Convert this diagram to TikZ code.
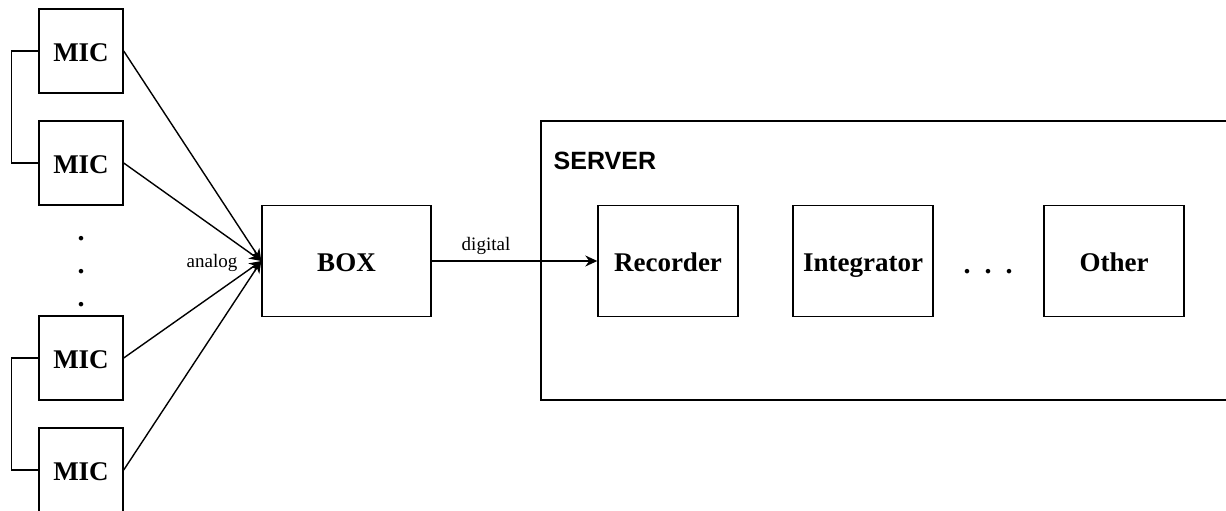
\documentclass[tikz,border=0pt]{standalone}
\usepackage{fontspec}
\setmainfont{Liberation Serif}
\newfontfamily\headsans{Liberation Sans}
\usetikzlibrary{arrows.meta}
\begin{document}
\begin{tikzpicture}[x=1pt,y=-1pt,
  line width=1.4pt,
  blk/.style={draw, rectangle, inner sep=0pt, text height=21pt, text depth=0pt,
    font=\fontsize{27}{30}\selectfont\bfseries},
  mic/.style={blk, minimum width=84pt, minimum height=84pt},
  unit/.style={blk, minimum width=140pt, minimum height=111pt},
  lbl/.style={inner sep=0pt, font=\fontsize{19}{22}\selectfont},
  dotc/.style={inner sep=0pt, anchor=base, font=\fontsize{28}{30}\selectfont\bfseries},
  sig/.style={-{Stealth[length=12pt,width=11pt]}}
]
\useasboundingbox (0,0) rectangle (1226,511);

% microphones
\node[mic] (m1) at (81,51) {MIC};
\node[mic] (m2) at (81,163) {MIC};
\node[mic] (m3) at (81,358) {MIC};
\node[mic] (m4) at (81,470) {MIC};

% vertical ellipsis between microphone groups
\node[dotc] (v1) at (81,240) {.};
\node[dotc] (v2) at (81,273) {.};
\node[dotc] (v3) at (81,306) {.};

% pairing brackets
\draw (m1.west) -- ++(-27,0) |- (m2.west);
\draw (m3.west) -- ++(-27,0) |- (m4.west);

% converter box
\node[blk, minimum width=169pt, minimum height=111pt] (box) at (346.5,261) {BOX};

\foreach \m in {m1,m2,m3,m4}
  \draw[sig] (\m.east) -- (box.west);
\node[lbl] (an) at (212,263) {analog};

% server, open to the right
\node[draw, rectangle, inner sep=0pt, minimum width=760pt, minimum height=279pt] (srv) at (921,260.5) {};
\node[anchor=base west, inner sep=0pt, font=\headsans\fontsize{25}{28}\selectfont\bfseries] (srvlbl) at (553,169) {SERVER};

\node[unit] (rec) at (668,261) {Recorder};
\node[unit] (int) at (863,261) {Integrator};
\node[unit] (oth) at (1114,261) {Other};

% horizontal ellipsis
\node[dotc] (h1) at (967,273) {.};
\node[dotc] (h2) at (988,273) {.};
\node[dotc] (h3) at (1009,273) {.};

\draw[sig] (box.east) -- (rec.west);
\node[lbl] (dg) at (486,246) {digital};
\end{tikzpicture}
\end{document}
